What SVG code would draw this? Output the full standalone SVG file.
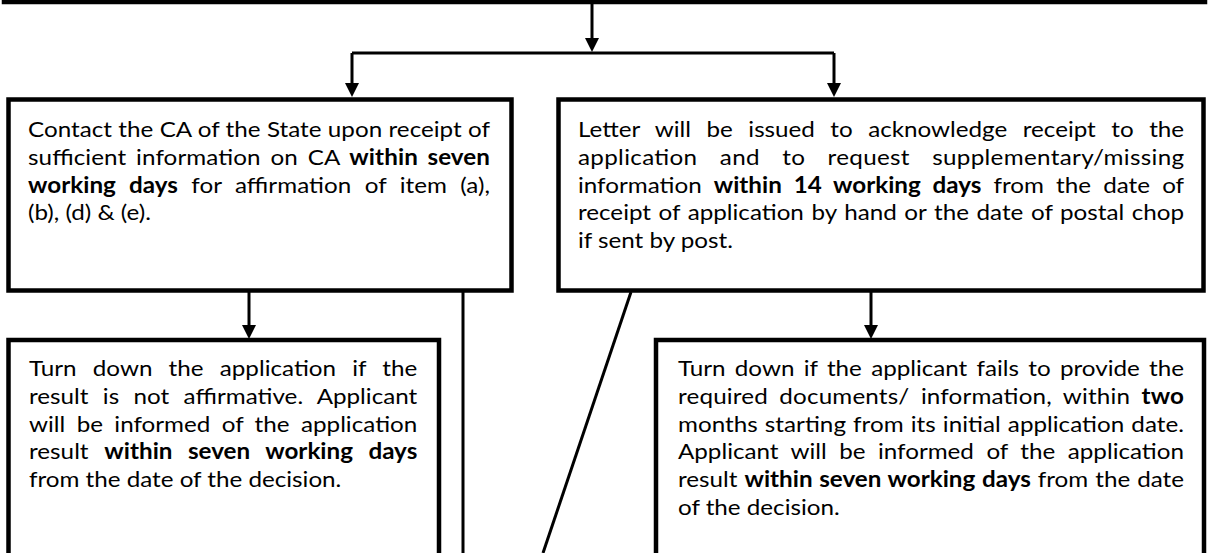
<svg xmlns="http://www.w3.org/2000/svg" width="1208" height="553" viewBox="0 0 1208 553">
  <defs>
    <marker id="arrow" viewBox="0 0 14 14" refX="6" refY="7" markerWidth="14" markerHeight="14" markerUnits="userSpaceOnUse" orient="auto">
      <path d="M0,0 L14,7 L0,14 z" fill="#000"/>
    </marker>
    <style>
      .box { fill: #fff; stroke: #000; stroke-width: 4.5; }
      .wire { fill: none; stroke: #000; stroke-width: 3; }
      .arr { marker-end: url(#arrow); }
      text { font-family: Lato, "Liberation Sans", sans-serif; font-size: 22px; fill: #000; }
      .b { font-weight: bold; }
    </style>
  </defs>
  <rect width="1208" height="553" fill="#fff"/>

  <!-- connectors -->
  <g id="connectors">
    <path class="wire arr" d="M592,4 V44"/>
    <path class="wire" d="M352,53 H834"/>
    <path class="wire arr" d="M352,53 V89"/>
    <path class="wire arr" d="M834,53 V89"/>
    <path class="wire arr" d="M249,292 V331"/>
    <path class="wire arr" d="M871,292 V331"/>
    <path class="wire" d="M463,292 V553"/>
    <path class="wire" d="M631,292 L543,553"/>
  </g>

  <!-- upstream step (only its lower edge is in view) -->
  <g id="node-top">
    <rect class="box" x="4" y="-60" width="1201" height="62"/>
  </g>

  <!-- text blocks are widened slightly (scale 1.1 on x) and justified per line -->
  <g id="node-contact-ca">
    <rect class="box" x="8.5" y="99.5" width="503" height="191"/>
    <g transform="translate(28 0) scale(1.1 1)">
      <text x="0" y="137" word-spacing="0.1" textLength="420" lengthAdjust="spacing">Contact the CA of the State upon receipt of</text>
      <text x="0" y="165" word-spacing="3.2" textLength="420" lengthAdjust="spacing">sufficient information on CA <tspan class="b">within seven</tspan></text>
      <text x="0" y="193" word-spacing="6.5" textLength="420" lengthAdjust="spacing"><tspan class="b">working days</tspan> for affirmation of item (a),</text>
      <text x="0" y="220">(b), (d) &amp; (e).</text>
    </g>
  </g>

  <g id="node-letter">
    <rect class="box" x="558.5" y="99.5" width="645" height="191"/>
    <g transform="translate(578 0) scale(1.1 1)">
      <text x="0" y="137" word-spacing="8.5" textLength="551" lengthAdjust="spacing">Letter will be issued to acknowledge receipt to the</text>
      <text x="0" y="165" word-spacing="14.4" textLength="551" lengthAdjust="spacing">application and to request supplementary/missing</text>
      <text x="0" y="193" word-spacing="5.4" textLength="551" lengthAdjust="spacing">information <tspan class="b">within 14 working days</tspan> from the date of</text>
      <text x="0" y="220" word-spacing="1.3" textLength="551" lengthAdjust="spacing">receipt of application by hand or the date of postal chop</text>
      <text x="0" y="248">if sent by post.</text>
    </g>
  </g>

  <g id="node-turn-down-ca">
    <rect class="box" x="8.5" y="340" width="430.5" height="240"/>
    <g transform="translate(29 0) scale(1.1 1)">
      <text x="0" y="376" word-spacing="9.1" textLength="353" lengthAdjust="spacing">Turn down the application if the</text>
      <text x="0" y="404" word-spacing="7.4" textLength="353" lengthAdjust="spacing">result is not affirmative. Applicant</text>
      <text x="0" y="432" word-spacing="4.7" textLength="353" lengthAdjust="spacing">will be informed of the application</text>
      <text x="0" y="459" word-spacing="8.7" textLength="353" lengthAdjust="spacing">result <tspan class="b">within seven working days</tspan></text>
      <text x="0" y="487">from the date of the decision.</text>
    </g>
  </g>

  <g id="node-turn-down-docs">
    <rect class="box" x="656" y="340" width="548" height="240"/>
    <g transform="translate(678 0) scale(1.1 1)">
      <text x="0" y="376" word-spacing="2.9" textLength="460" lengthAdjust="spacing">Turn down if the applicant fails to provide the</text>
      <text x="0" y="404" word-spacing="4.6" textLength="460" lengthAdjust="spacing">required documents/ information, within <tspan class="b">two</tspan></text>
      <text x="0" y="432" word-spacing="0.8" textLength="460" lengthAdjust="spacing">months starting from its initial application date.</text>
      <text x="0" y="459" word-spacing="5.7" textLength="460" lengthAdjust="spacing">Applicant will be informed of the application</text>
      <text x="0" y="487" word-spacing="0.7" textLength="460" lengthAdjust="spacing">result <tspan class="b">within seven working days</tspan> from the date</text>
      <text x="0" y="515">of the decision.</text>
    </g>
  </g>
</svg>
